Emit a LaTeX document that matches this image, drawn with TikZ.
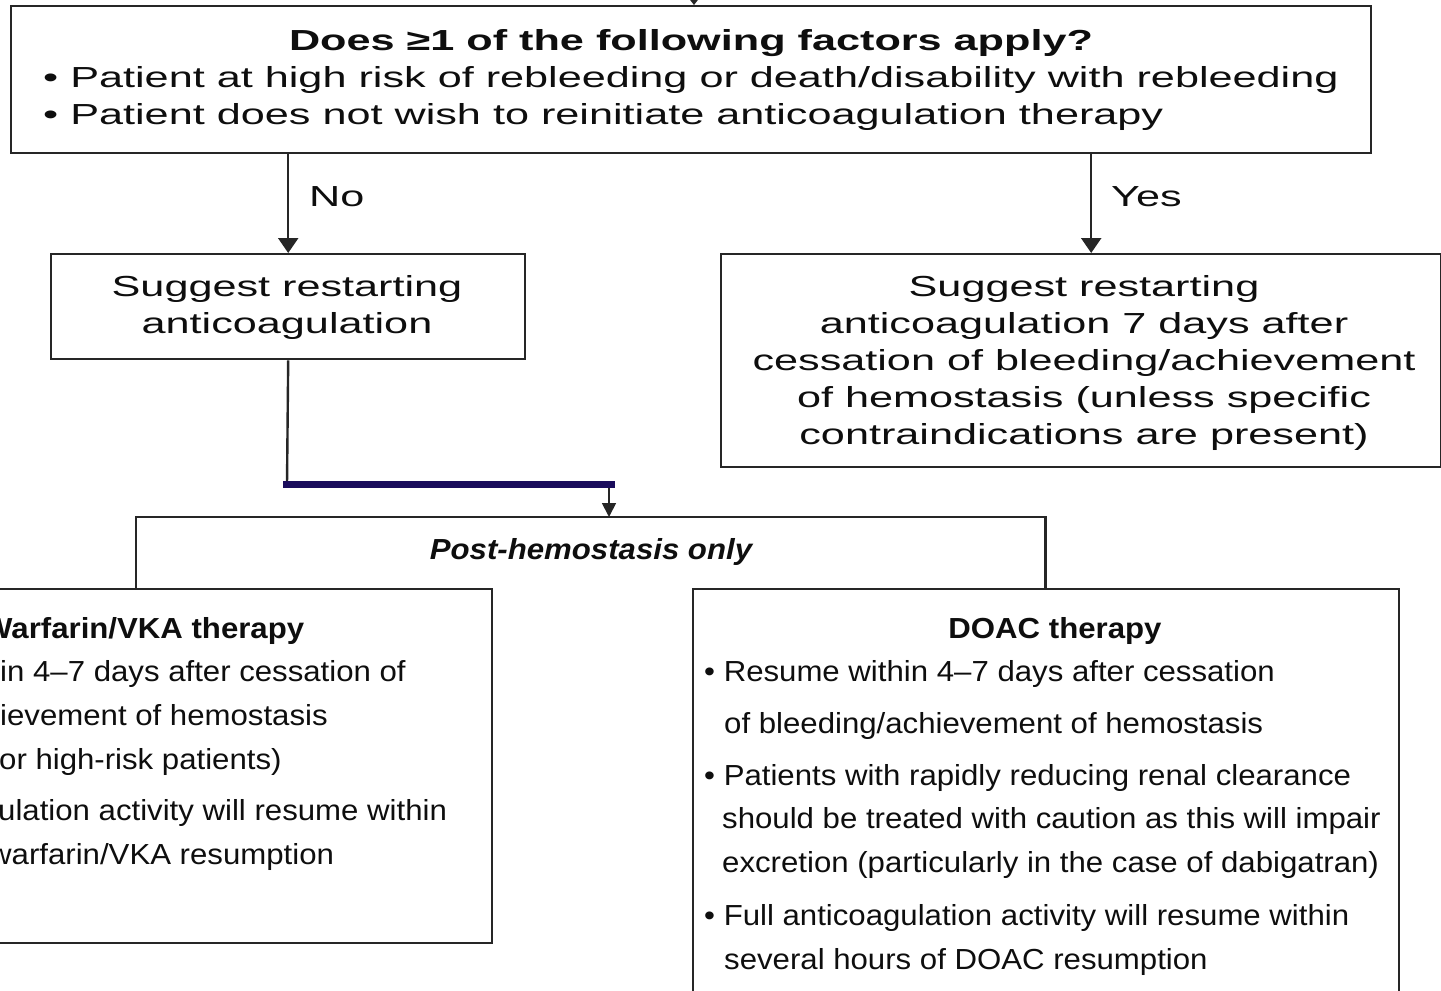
\documentclass[tikz,border=0pt]{standalone}
\usepackage{fontspec}
\setmainfont{Liberation Sans}
% wide face for the upper half, regular face for the lower half
\newfontfamily\widesans[FakeStretch=1.49]{Liberation Sans}
\newfontfamily\regsans[FakeStretch=1.075]{Liberation Sans}
\usetikzlibrary{arrows.meta}
\definecolor{navy}{RGB}{26,12,92}
\definecolor{ink}{RGB}{14,14,14}
\begin{document}
\begin{tikzpicture}[x=1pt,y=-1pt,
  frame/.style={draw=black!85,line width=2.4pt,inner sep=0pt,anchor=north west},
  hollow/.style={inner sep=0pt,anchor=north west},
  wtext/.style={inner sep=0pt,text=ink,font=\widesans\fontsize{29}{35}\selectfont},
  rtext/.style={inner sep=0pt,text=ink,font=\regsans\fontsize{29}{35}\selectfont},
  lft/.style={anchor=base west},
  mid/.style={anchor=base},
  flow/.style={draw=black!85,line width=2.4pt,-{Triangle[width=20pt,length=15pt]}},
  smallflow/.style={draw=black!85,line width=1.8pt,-{Triangle[width=14pt,length=14pt]}},
  tinyflow/.style={draw=black!85,line width=1.2pt,-{Triangle[width=9pt,length=6pt]}}]
\clip (0,0) rectangle (1441,991);

% boxes
\node[frame,minimum width=1360pt,minimum height=147pt] (q) at (10,5) {};
\node[frame,minimum width=474pt,minimum height=105pt] (restart) at (50,253) {};
\node[frame,minimum width=720pt,minimum height=213pt] (delay) at (720,253) {};
\node[hollow,minimum width=909pt,minimum height=71pt] (post) at (136,517) {};
\node[frame,minimum width=711pt,minimum height=354pt] (warf) at (-220,588) {};
\node[frame,minimum width=706pt,minimum height=420pt] (doac) at (692,588) {};

% open-bottomed bracket of the post-hemostasis box
\draw[black!85,line width=2.4pt] (post.south west) -- (post.north west)
  -- (post.north east) -- (post.south east);

% connectors
\coordinate (src) at (694,-8);
\draw[tinyflow] (src) -- (src |- q.north);
\draw[flow] (restart.north |- q.south) -- (restart.north);
\draw[flow] ([xshift=10pt]delay.north |- q.south) -- ([xshift=10pt]delay.north);
\coordinate (bend) at (287,484.5);
\coordinate (drop) at (609,484.5);
\draw[black!85,line width=2.4pt] (restart.south) -- (bend);
\draw[smallflow] (drop) -- (drop |- post.north);
\draw[navy,line width=7pt] ([xshift=-4pt]bend) -- ([xshift=6pt]drop);

% question box
\node[wtext,mid] (qt) at (691,50) {\bfseries Does ≥1 of the following factors apply?};
\node[wtext,lft] (qa) at (43,87) {• Patient at high risk of rebleeding or death/disability with rebleeding};
\node[wtext,lft] (qb) at (43,124) {• Patient does not wish to reinitiate anticoagulation therapy};

% branch labels
\node[wtext,lft] (no) at (309,206) {No};
\node[wtext,lft] (yes) at (1111,206) {Yes};

% restart boxes
\node[wtext,mid] (r1) at (287,296) {Suggest restarting};
\node[wtext,mid] (r2) at (287,333) {anticoagulation};
\node[wtext,mid] (d1) at (1084,296) {Suggest restarting};
\node[wtext,mid] (d2) at (1084,333) {anticoagulation 7 days after};
\node[wtext,mid] (d3) at (1084,370) {cessation of bleeding/achievement};
\node[wtext,mid] (d4) at (1084,407) {of hemostasis (unless specific};
\node[wtext,mid] (d5) at (1084,444) {contraindications are present)};

% post-hemostasis
\node[rtext,mid] (pt) at (591,559) {\bfseries\itshape Post-hemostasis only};

% warfarin box
\node[rtext,lft] (w0) at (-17,638) {\bfseries Warfarin/VKA therapy};
\node[rtext,lft] (w1) at (0,681) {in 4–7 days after cessation of};
\node[rtext,lft] (w2) at (0,725) {ievement of hemostasis};
\node[rtext,lft] (w3) at (-1,769) {or high-risk patients)};
\node[rtext,lft] (w4) at (-2,820) {ulation activity will resume within};
\node[rtext,lft] (w5) at (-11,864) {warfarin/VKA resumption};

% DOAC box
\node[rtext,mid] (k0) at (1055,638) {\bfseries DOAC therapy};
\node[rtext,lft] (k1) at (704,681) {• Resume within 4–7 days after cessation};
\node[rtext,lft] (k2) at (724,733) {of bleeding/achievement of hemostasis};
\node[rtext,lft] (k3) at (704,785) {• Patients with rapidly reducing renal clearance};
\node[rtext,lft] (k4) at (722,828) {should be treated with caution as this will impair};
\node[rtext,lft] (k5) at (722,872) {excretion (particularly in the case of dabigatran)};
\node[rtext,lft] (k6) at (704,925) {• Full anticoagulation activity will resume within};
\node[rtext,lft] (k7) at (724,969) {several hours of DOAC resumption};
\end{tikzpicture}
\end{document}
